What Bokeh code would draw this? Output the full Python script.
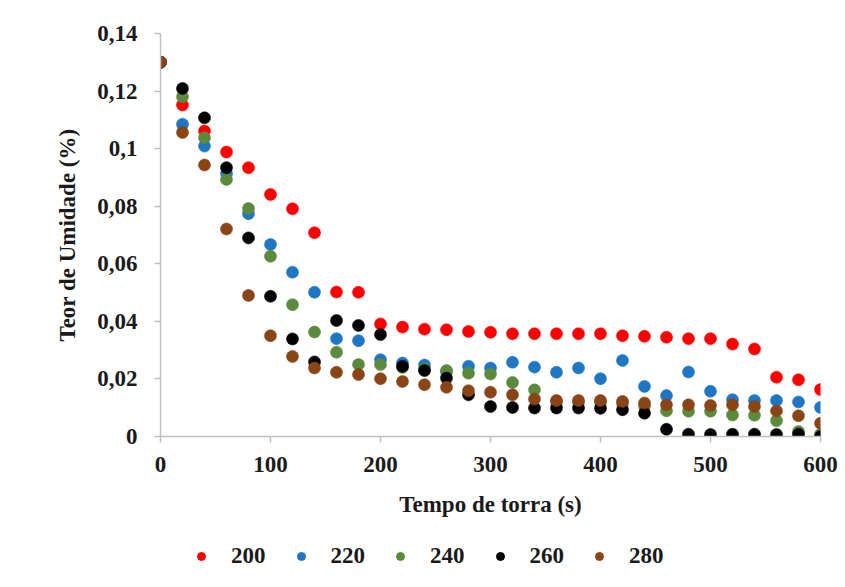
from bokeh.plotting import figure
from bokeh.layouts import column
from bokeh.models import ColumnDataSource, FixedTicker, Legend, LegendItem
from bokeh.embed import file_html
from bokeh.resources import INLINE

tempo = [0, 20, 40, 60, 80, 100, 120, 140, 160, 180, 200, 220, 240, 260, 280, 300,
         320, 340, 360, 380, 400, 420, 440, 460, 480, 500, 520, 540, 560, 580, 600]

u200 = [0.130, 0.1152, 0.1061, 0.0988, 0.0934, 0.0841, 0.0791, 0.0708, 0.0502, 0.0501,
        0.0391, 0.0380, 0.0373, 0.0371, 0.0365, 0.0362, 0.0357, 0.0357, 0.0357, 0.0357,
        0.0357, 0.0350, 0.0348, 0.0345, 0.0340, 0.0340, 0.0321, 0.0304, 0.0206, 0.0197, 0.0163]
u220 = [0.130, 0.1085, 0.1009, 0.0913, 0.0774, 0.0667, 0.0571, 0.0501, 0.0340, 0.0333,
        0.0267, 0.0255, 0.0248, 0.0225, 0.0244, 0.0238, 0.0258, 0.0241, 0.0223, 0.0238,
        0.0201, 0.0264, 0.0174, 0.0142, 0.0224, 0.0157, 0.0128, 0.0125, 0.0125, 0.0120, 0.0101]
u240 = [0.130, 0.1180, 0.1038, 0.0893, 0.0792, 0.0626, 0.0458, 0.0363, 0.0293, 0.0250,
        0.0250, 0.0240, 0.0235, 0.0229, 0.0220, 0.0217, 0.0188, 0.0162, 0.0120, 0.0120,
        0.0118, 0.0115, 0.0105, 0.0089, 0.0088, 0.0088, 0.0075, 0.0074, 0.0055, 0.0017, 0.0008]
u260 = [0.130, 0.1209, 0.1107, 0.0934, 0.0690, 0.0487, 0.0339, 0.0259, 0.0403, 0.0386,
        0.0354, 0.0244, 0.0229, 0.0203, 0.0145, 0.0104, 0.0101, 0.0099, 0.0099, 0.0099,
        0.0098, 0.0093, 0.0081, 0.0025, 0.0008, 0.0007, 0.0008, 0.0008, 0.0007, 0.0008, 0.0000]
u280 = [0.130, 0.1056, 0.0943, 0.0721, 0.0490, 0.0350, 0.0278, 0.0238, 0.0223, 0.0215,
        0.0201, 0.0191, 0.0180, 0.0171, 0.0159, 0.0154, 0.0145, 0.0130, 0.0125, 0.0125,
        0.0125, 0.0122, 0.0116, 0.0110, 0.0110, 0.0108, 0.0110, 0.0104, 0.0089, 0.0072, 0.0046]

series_names = ["200", "220", "240", "260", "280"]
series_values = [u200, u220, u240, u260, u280]
series_colors = ["#FF0000", "#1F77C4", "#5B8A3C", "#000000", "#8A4516"]

y_ticks = [0, 0.02, 0.04, 0.06, 0.08, 0.1, 0.12, 0.14]
y_tick_labels = ["0", "0,02", "0,04", "0,06", "0,08", "0,1", "0,12", "0,14"]
x_ticks = [0, 100, 200, 300, 400, 500, 600]

FONT = "Liberation Serif"
FS = "23px"

p = figure(width=840, height=530, output_backend="svg", toolbar_location=None,
           x_range=(0, 600), y_range=(0, 0.14),
           min_border_left=160, min_border_right=20, min_border_top=33, min_border_bottom=94)
p.outline_line_color = None
p.xgrid.grid_line_color = None
p.ygrid.grid_line_color = None
p.background_fill_color = "white"
p.border_fill_color = "white"

# legend strip below the chart (same data sources, drawn off-range so only the legend shows)
leg = figure(width=840, height=50, output_backend="svg", toolbar_location=None,
             x_range=(1000, 1001), y_range=(0, 1),
             min_border_left=0, min_border_right=0, min_border_top=0, min_border_bottom=0)
leg.axis.visible = False
leg.grid.visible = False
leg.outline_line_color = None
leg.background_fill_color = "white"
leg.border_fill_color = "white"

items = []
for name, vals, col in zip(series_names, series_values, series_colors):
    src = ColumnDataSource(dict(x=tempo, y=vals))
    p.scatter("x", "y", source=src, size=12, fill_color=col, line_color=col, line_alpha=0.6)
    r2 = leg.scatter("x", "y", source=src, size=12, fill_color=col, line_color=col)
    items.append(LegendItem(label=name, renderers=[r2]))

for ax in (p.xaxis[0], p.yaxis[0]):
    ax.axis_line_color = "#BFBFBF"
    ax.axis_line_width = 1.5
    ax.major_tick_line_color = "#BFBFBF"
    ax.major_tick_line_width = 1.5
    ax.major_tick_out = 6
    ax.major_tick_in = 0
    ax.minor_tick_line_color = None
    ax.major_label_text_font = FONT
    ax.major_label_text_font_style = "bold"
    ax.major_label_text_font_size = FS
    ax.major_label_text_color = "#1a1a1a"
    ax.axis_label_text_font = FONT
    ax.axis_label_text_font_style = "bold"
    ax.axis_label_text_font_size = FS
    ax.axis_label_text_color = "#1a1a1a"

p.xaxis.ticker = FixedTicker(ticks=x_ticks)
p.yaxis.ticker = FixedTicker(ticks=y_ticks)
p.yaxis.major_label_overrides = {t: l for t, l in zip(y_ticks, y_tick_labels)}
p.xaxis.axis_label = "Tempo de torra (s)"
p.yaxis.axis_label = "Teor de Umidade (%)"
p.xaxis.major_label_standoff = 14
p.yaxis.major_label_standoff = 17
p.xaxis.axis_label_standoff = 17
p.yaxis.axis_label_standoff = 14

legend = Legend(items=items, orientation="horizontal", location=(31, 11))
legend.border_line_color = None
legend.background_fill_alpha = 0
legend.padding = 0
legend.margin = 0
legend.glyph_width = 20
legend.glyph_height = 20
legend.label_standoff = 20
legend.spacing = 25
legend.label_text_font = FONT
legend.label_text_font_style = "bold"
legend.label_text_font_size = FS
legend.label_text_color = "#1a1a1a"
leg.add_layout(legend, "center")

layout = column(p, leg, spacing=0)
open("out.html", "w").write(file_html(layout, INLINE))
